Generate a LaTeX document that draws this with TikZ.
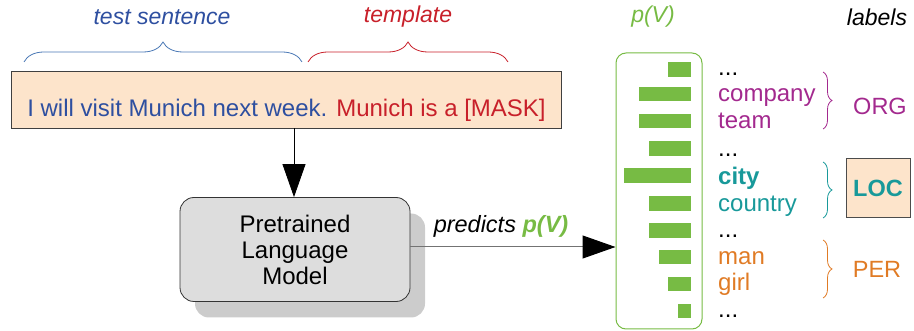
\documentclass[tikz,border=0pt]{standalone}
\usepackage{fontspec}
\setmainfont{Liberation Sans}
\usetikzlibrary{arrows.meta,decorations.pathreplacing,shadows}
\definecolor{tblue}{HTML}{2E4FA0}
\definecolor{bblue}{HTML}{4A78B5}
\definecolor{tred}{HTML}{C8202A}
\definecolor{tgreen}{HTML}{77BB44}
\definecolor{torg}{HTML}{A3298E}
\definecolor{tloc}{HTML}{18999A}
\definecolor{tper}{HTML}{E07B25}
\definecolor{boxfill}{HTML}{FDE4CB}
\definecolor{plmfill}{HTML}{DDDDDD}
\definecolor{shad}{HTML}{CCCCCC}
\tikzset{
  txt/.style={font=\fontsize{23.5}{26}\selectfont, inner sep=0pt},
  big/.style={font=\fontsize{24}{26}\selectfont, inner sep=0pt},
  ttl/.style={font=\fontsize{23}{26}\selectfont\itshape, inner sep=0pt},
  word/.style={font=\fontsize{24}{26}\selectfont, inner sep=0pt, anchor=base west},
  bar/.style={fill=tgreen, draw=none},
  bigarrow/.style={-{Triangle[length=33pt,width=23pt,color=black,fill=black]}},
  topbrace/.style={decorate, decoration={brace, amplitude=20pt}, line width=0.8pt},
  sidebrace/.style={decorate, decoration={brace, amplitude=9pt}, line width=0.8pt},
}
\begin{document}
\begin{tikzpicture}[x=1pt,y=-1pt]
\useasboundingbox (0,0) rectangle (914,331);
% titles
\node[ttl, text=tblue] (ts) at (162,17) {test sentence};
\node[ttl, text=tred] (tp) at (408,17) {template};
\node[ttl, text=tgreen] (pv) at (653,17) {p(V)};
\node[ttl] (lb) at (877,17) {labels};
% top braces
\coordinate (b1a) at (24,62); \coordinate (b1b) at (302,62);
\coordinate (b2a) at (308,62); \coordinate (b2b) at (508,62);
\draw[topbrace, bblue] (b1a) -- (b1b);
\draw[topbrace, tred] (b2a) -- (b2b);
% sentence box
\node[draw=black!75, line width=0.8pt, fill=boxfill, minimum width=550pt, minimum height=57pt, inner sep=0pt] (sent) at (286,99.5) {};
\node[big, anchor=base] (senttext) at (286.5,117)
  {\textcolor{tblue}{I will visit Munich next week.} \textcolor{tred}{Munich is a [MASK]}};
% PLM
\node[draw=black!80, line width=0.8pt, fill=plmfill, rounded corners=14pt, minimum width=230pt, minimum height=104pt, inner sep=0pt,
  drop shadow={shadow xshift=15pt, shadow yshift=-16pt, fill=shad, opacity=1}] (plm) at (295,249.5) {};
\node[big, align=center, anchor=base] (plmtext) at (295,285) {Pretrained\\Language\\Model};
\draw[bigarrow, line width=0.8pt] (sent.south -| 294,0) -- (plm.north -| 294,0);
% green box
\node[draw=tgreen, line width=1pt, rounded corners=10pt, minimum width=86pt, minimum height=276pt, inner sep=0pt] (pbox) at (659,191) {};
\draw[bigarrow, line width=1pt, black!55] ([yshift=2.5pt]plm.east) -- ([yshift=2.5pt]plm.east -| pbox.west);
\node[font=\fontsize{23.5}{26}\selectfont\itshape, inner sep=0pt, anchor=base] (pred) at (501,233) {predicts \textcolor{tgreen}{\bfseries p(V)}};
% bars
\fill[bar] (668,62) rectangle (691,77);
\fill[bar] (639,87) rectangle (691,101);
\fill[bar] (639,114) rectangle (691,128);
\fill[bar] (649,141) rectangle (691,156);
\fill[bar] (624,168) rectangle (691,183);
\fill[bar] (649,196) rectangle (691,211);
\fill[bar] (649,223) rectangle (691,238);
\fill[bar] (659,250) rectangle (691,264);
\fill[bar] (668,277) rectangle (691,291);
\fill[bar] (678,304) rectangle (691,318);
% words
\node[word] (d1) at (718,76) {...};
\node[word, text=torg] (w1) at (718,102) {company};
\node[word, text=torg] (w2) at (718,129) {team};
\node[word] (d2) at (718,157) {...};
\node[word, text=tloc, font=\fontsize{24}{26}\selectfont\bfseries] (w3) at (718,185) {city};
\node[word, text=tloc] (w4) at (718,212) {country};
\node[word] (d3) at (718,238) {...};
\node[word, text=tper] (w5) at (718,265) {man};
\node[word, text=tper] (w6) at (718,291) {girl};
\node[word] (d4) at (718,318) {...};
% side braces
\coordinate (s1a) at (823,72); \coordinate (s1b) at (823,129);
\coordinate (s2a) at (823,162); \coordinate (s2b) at (823,218);
\coordinate (s3a) at (823,240); \coordinate (s3b) at (823,298);
\draw[sidebrace, torg] (s1a) -- (s1b);
\draw[sidebrace, tloc] (s2a) -- (s2b);
\draw[sidebrace, tper] (s3a) -- (s3b);
% labels
\node[txt, text=torg] (org) at (880,106) {ORG};
\node[txt, text=tloc, font=\fontsize{23.5}{26}\selectfont\bfseries, draw=black!70, line width=1pt, fill=boxfill, minimum width=64pt, minimum height=59pt] (loc) at (878,188.5) {LOC};
\node[txt, text=tper] (per) at (877,269) {PER};
\end{tikzpicture}
\end{document}
